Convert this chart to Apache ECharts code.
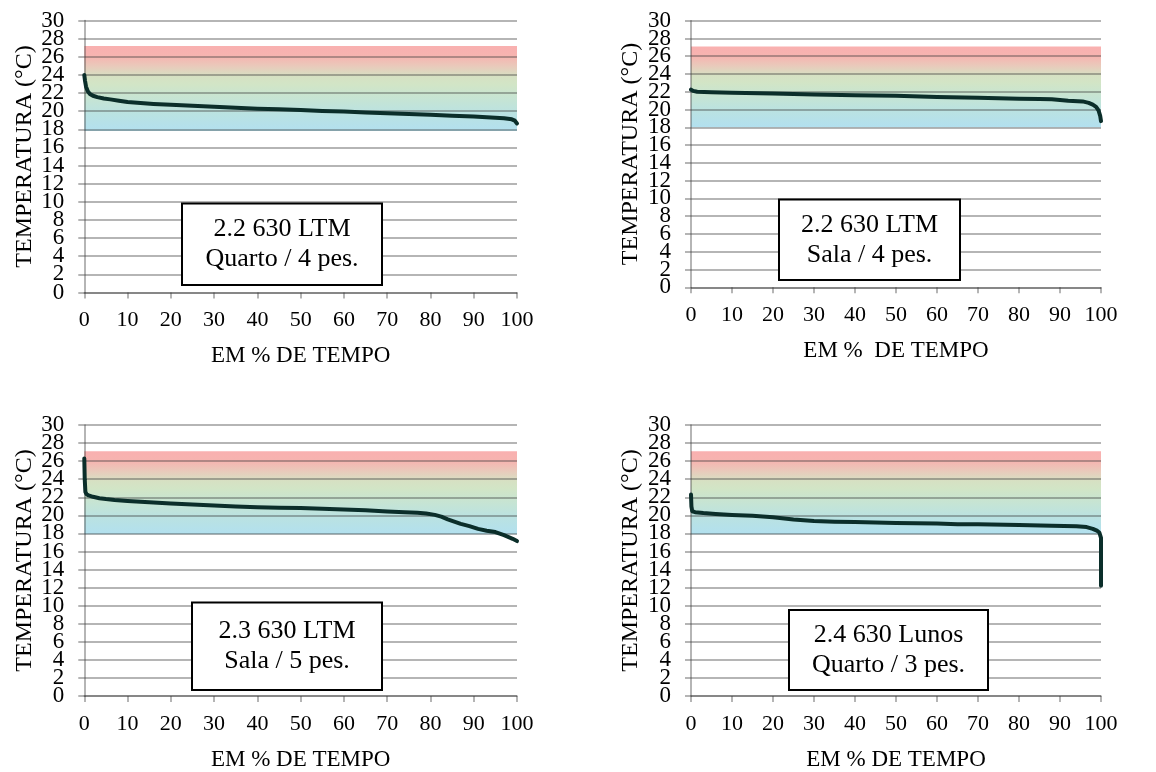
<!DOCTYPE html>
<html>
<head>
<meta charset="utf-8">
<script src="https://cdn.jsdelivr.net/npm/echarts@6/dist/echarts.min.js"></script>
<style>html,body{margin:0;padding:0;background:#fff;}#c{width:1156px;height:772px;}</style>
</head>
<body>
<div id="c"></div>
<script>
// ---- data ----
var yTicks = [0,2,4,6,8,10,12,14,16,18,20,22,24,26,28,30];
var xTicks = [0,10,20,30,40,50,60,70,80,90,100];
var xTitles = ['EM % DE TEMPO', 'EM %  DE TEMPO', 'EM % DE TEMPO', 'EM % DE TEMPO'];
var yTitle = 'TEMPERATURA (°C)';
var boxLine1 = ['2.2 630 LTM', '2.2 630 LTM', '2.3 630 LTM', '2.4 630 Lunos'];
var boxLine2 = ['Quarto / 4 pes.', 'Sala / 4 pes.', 'Sala / 5 pes.', 'Quarto / 3 pes.'];
var bandLow = [17.8, 18.0, 17.9, 17.9];
var bandHigh = [27.2, 27.1, 27.1, 27.1];

var x1 = [0, 0.15, 0.4, 0.8, 1.3, 2, 3, 4.5, 6, 8, 10, 13, 16, 20, 25, 30, 35, 40, 45, 50, 55, 60, 65, 70, 75, 80, 85, 90, 94, 97, 98.8, 99.5, 100];
var y1 = [24.0, 23.4, 22.7, 22.2, 21.9, 21.7, 21.55, 21.4, 21.3, 21.15, 21.0, 20.9, 20.8, 20.7, 20.6, 20.48, 20.38, 20.28, 20.2, 20.12, 20.03, 19.95, 19.86, 19.77, 19.68, 19.6, 19.5, 19.4, 19.3, 19.22, 19.1, 18.95, 18.65];

var x2 = [0, 0.5, 1.5, 5, 10, 20, 30, 40, 50, 60, 70, 80, 85, 88, 92, 95.5, 97, 98, 98.8, 99.4, 99.8, 100];
var y2 = [22.25, 22.1, 22.0, 21.95, 21.9, 21.8, 21.7, 21.62, 21.55, 21.42, 21.32, 21.22, 21.2, 21.15, 21.0, 20.92, 20.75, 20.55, 20.3, 19.9, 19.3, 18.7];

var x3 = [0, 0.1, 0.25, 0.5, 1, 2, 3.5, 5, 7, 10, 15, 20, 25, 30, 35, 40, 45, 50, 55, 60, 65, 70, 74, 77, 79, 81, 82.5, 84, 85.5, 87, 89, 91, 93, 95, 97, 99, 100];
var y3 = [26.3, 24.0, 22.6, 22.35, 22.2, 22.05, 21.9, 21.8, 21.7, 21.6, 21.45, 21.3, 21.2, 21.08, 20.98, 20.9, 20.85, 20.8, 20.72, 20.64, 20.55, 20.42, 20.35, 20.28, 20.2, 20.05, 19.85, 19.55, 19.3, 19.05, 18.8, 18.5, 18.3, 18.15, 17.8, 17.4, 17.15];

var x4 = [0, 0.1, 0.3, 1, 3, 6, 10, 15, 20, 25, 30, 35, 40, 50, 60, 65, 70, 80, 88, 94, 96.5, 98, 99, 99.6, 99.9, 100, 100];
var y4 = [22.3, 21.0, 20.45, 20.35, 20.25, 20.15, 20.05, 19.95, 19.8, 19.55, 19.38, 19.3, 19.25, 19.15, 19.1, 19.02, 19.0, 18.92, 18.85, 18.78, 18.7, 18.5, 18.3, 18.1, 17.9, 17.5, 12.2];

var xs = [x1, x2, x3, x4];
var ys = [y1, y2, y3, y4];

// ---- layout ----
var FONT = 'Liberation Serif';
var grids = [
  {left: 84.3, top: 20.5, width: 432.7, height: 272},
  {left: 691, top: 20.7, width: 410, height: 266.6},
  {left: 84.3, top: 425, width: 432.7, height: 272.5},
  {left: 691, top: 425, width: 410, height: 272.3}
];
var boxes = [
  {x: 182, y: 203.5, w: 200, h: 81.5},
  {x: 779, y: 199.5, w: 181, h: 80.5},
  {x: 192, y: 602.5, w: 190, h: 87.5},
  {x: 789, y: 610, w: 199, h: 80}
];

function zip(a, b) { var r = []; for (var i = 0; i < a.length; i++) r.push([a[i], b[i]]); return r; }

var gridLineColor = 'rgba(60,60,60,0.5)';
var bandGradient = {
  type: 'linear', x: 0, y: 0, x2: 0, y2: 1,
  colorStops: [
    {offset: 0, color: '#f9b0b0'},
    {offset: 0.12, color: '#f6b4b0'},
    {offset: 0.24, color: '#e9cabb'},
    {offset: 0.36, color: '#d6e1c3'},
    {offset: 0.45, color: '#d2e5c6'},
    {offset: 0.65, color: '#c4e4d6'},
    {offset: 0.8, color: '#bae2e2'},
    {offset: 1, color: '#b2e0ef'}
  ]
};

var xAxes = [], yAxes = [], series = [], graphics = [], curveIdx = [];
for (var i = 0; i < 4; i++) {
  xAxes.push({
    type: 'value', gridIndex: i, min: 0, max: 100, interval: 10, z: 3,
    name: xTitles[i], nameLocation: 'middle', nameGap: 52,
    nameTextStyle: {fontFamily: FONT, fontSize: 23, color: '#000'},
    axisLine: {show: true, lineStyle: {color: gridLineColor, width: 1.5}},
    axisTick: {show: true, length: 6, lineStyle: {color: gridLineColor, width: 1.5}},
    axisLabel: {fontFamily: FONT, fontSize: 22, color: '#000', margin: 17},
    splitLine: {show: false}
  });
  // value axis: scale, grid lines, ticks, title
  yAxes.push({
    type: 'value', gridIndex: i, min: 0, max: 30, interval: 2, z: 3, position: 'left',
    name: yTitle, nameLocation: 'middle', nameGap: 48, nameRotate: 90,
    nameTextStyle: {fontFamily: FONT, fontSize: 24, color: '#000'},
    axisLine: {show: true, lineStyle: {color: gridLineColor, width: 1.5}},
    axisTick: {show: true, length: 6, lineStyle: {color: gridLineColor, width: 1.5}},
    axisLabel: {show: false},
    splitLine: {show: true, lineStyle: {color: gridLineColor, width: 1.5}}
  });
  // tick-label axis (all labels shown, aligned with the value ticks)
  yAxes.push({
    type: 'category', gridIndex: i, data: yTicks.map(String), boundaryGap: false, position: 'left', z: 3,
    axisLine: {show: false}, axisTick: {show: false}, splitLine: {show: false},
    axisLabel: {interval: 0, fontFamily: FONT, fontSize: 23, color: '#000', margin: 20}
  });
  series.push({
    type: 'line', xAxisIndex: i, yAxisIndex: 2 * i, data: [], z: 1, clip: false, silent: true,
    markArea: {
      silent: true,
      itemStyle: {color: bandGradient},
      data: [[{coord: [0, bandHigh[i]]}, {coord: [100.4, bandLow[i]]}]]
    }
  });
  curveIdx.push(series.length);
  series.push({
    type: 'line', xAxisIndex: i, yAxisIndex: 2 * i, z: 5,
    data: zip(xs[i], ys[i]), showSymbol: false, smooth: false,
    lineStyle: {width: 4, color: '#0b2e2a', cap: 'round', join: 'round'}
  });
  var b = boxes[i];
  graphics.push({
    type: 'group', z: 100,
    children: [
      {type: 'rect', shape: {x: b.x, y: b.y, width: b.w, height: b.h},
       style: {fill: '#fff', stroke: '#000', lineWidth: 2}, z: 100},
      {type: 'text', x: b.x + b.w / 2, y: b.y + b.h / 2 - 15, z: 101,
       style: {text: boxLine1[i], font: '26px "Liberation Serif"', fill: '#000', align: 'center', verticalAlign: 'middle'}},
      {type: 'text', x: b.x + b.w / 2, y: b.y + b.h / 2 + 15, z: 101,
       style: {text: boxLine2[i], font: '26px "Liberation Serif"', fill: '#000', align: 'center', verticalAlign: 'middle'}}
    ]
  });
}

var chart = echarts.init(document.getElementById('c'), null, {renderer: 'canvas'});
chart.setOption({
  animation: false,
  backgroundColor: '#fff',
  grid: grids,
  xAxis: xAxes,
  yAxis: yAxes,
  visualMap: {
    type: 'piecewise', show: false, dimension: 1, seriesIndex: curveIdx,
    pieces: [{gte: 17.9, lte: 27.2, color: '#0b2e2a'}],
    outOfRange: {color: '#000'}
  },
  series: series,
  graphic: graphics
});
</script>
</body>
</html>
